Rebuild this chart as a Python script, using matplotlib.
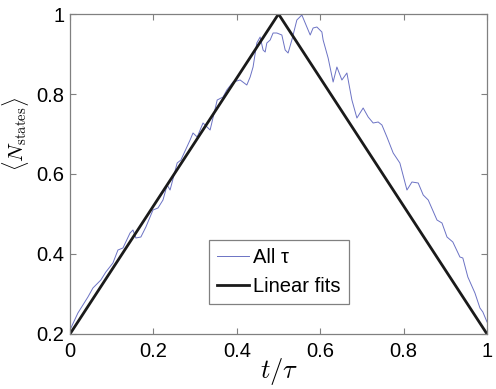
import numpy as np
import matplotlib
matplotlib.use("Agg")
import matplotlib.pyplot as plt

plt.rcParams["font.family"] = ["Liberation Sans", "DejaVu Sans"]
plt.rcParams["mathtext.fontset"] = "cm"

# Averaged number of states (blue, noisy trace)
t_all = [0.000, 0.019, 0.043, 0.055, 0.074, 0.086, 0.103, 0.115, 0.127, 0.144,
         0.151, 0.158, 0.170, 0.182, 0.199, 0.211, 0.223, 0.233, 0.240, 0.257,
         0.266, 0.288, 0.295, 0.305, 0.319, 0.336, 0.353, 0.367, 0.376, 0.391,
         0.408, 0.424, 0.432, 0.439, 0.448, 0.456, 0.463, 0.468, 0.472, 0.480,
         0.487, 0.496, 0.508, 0.516, 0.523, 0.532, 0.544, 0.556, 0.568, 0.576,
         0.583, 0.592, 0.604, 0.607, 0.619, 0.631, 0.640, 0.652, 0.664, 0.676,
         0.688, 0.703, 0.715, 0.727, 0.739, 0.748, 0.760, 0.775, 0.791, 0.808,
         0.820, 0.835, 0.847, 0.859, 0.880, 0.892, 0.904, 0.918, 0.935, 0.942,
         0.954, 0.971, 0.983, 0.990, 1.000]
n_all = [0.210, 0.2525, 0.2925, 0.315, 0.335, 0.355, 0.3775, 0.410, 0.415, 0.4525,
         0.460, 0.440, 0.4425, 0.4675, 0.510, 0.515, 0.535, 0.5725, 0.560, 0.6275,
         0.635, 0.685, 0.7025, 0.6925, 0.7275, 0.710, 0.785, 0.7925, 0.810, 0.830,
         0.835, 0.8225, 0.8425, 0.8675, 0.9275, 0.9425, 0.910, 0.905, 0.9275, 0.935,
         0.9525, 0.9525, 0.9475, 0.910, 0.9025, 0.935, 0.985, 0.9975, 0.9675, 0.9475,
         0.965, 0.9675, 0.955, 0.935, 0.890, 0.830, 0.8675, 0.835, 0.8525, 0.785,
         0.740, 0.765, 0.7425, 0.7275, 0.730, 0.7225, 0.6925, 0.6525, 0.6275, 0.560,
         0.580, 0.5775, 0.5475, 0.535, 0.485, 0.4775, 0.4425, 0.430, 0.3925, 0.390,
         0.3425, 0.3025, 0.265, 0.255, 0.230]

# Linear fits (up and down)
t_fit = [0.0, 0.5, 1.0]
n_fit = [0.2, 1.0, 0.2]

xticks = [0, 0.2, 0.4, 0.6, 0.8, 1]
yticks = [0.2, 0.4, 0.6, 0.8, 1]
tick_labels_x = ["0", "0.2", "0.4", "0.6", "0.8", "1"]
tick_labels_y = ["0.2", "0.4", "0.6", "0.8", "1"]

fig = plt.figure(figsize=(4.96, 3.89), dpi=100)
ax = fig.add_axes([0.1411, 0.1414, 0.8408, 0.8226])

ax.plot(t_all, n_all, color="#6b72c4", lw=0.7, label="All τ")
ax.plot(t_fit, n_fit, color="#1a1a1a", lw=2.0, label="Linear fits")

ax.set_xlim(0, 1)
ax.set_ylim(0.2, 1)
ax.set_xticks(xticks)
ax.set_xticklabels(tick_labels_x)
ax.set_yticks(yticks)
ax.set_yticklabels(tick_labels_y)
ax.tick_params(direction="in", top=True, right=True, length=4, color="#808080",
               labelsize=14.5)
ax.tick_params(axis="x", pad=6)
ax.tick_params(axis="y", pad=4)
for s in ax.spines.values():
    s.set_color("#808080")
    s.set_linewidth(0.9)

ax.set_xlabel(r"$t/\tau$", fontsize=19)
ax.xaxis.set_label_coords(0.501, -0.068)
ax.set_ylabel(r"$\langle N_{\rm states}\rangle$", fontsize=15)
ax.yaxis.set_label_coords(-0.094, 0.625)

leg = ax.legend(loc="lower left", bbox_to_anchor=(0.333, 0.094), borderaxespad=0,
                fontsize=14.5, fancybox=False, edgecolor="#808080", framealpha=1,
                handlelength=1.6, handletextpad=0.2, borderpad=0.4, labelspacing=0.5)
leg.get_frame().set_linewidth(0.9)

fig.savefig("out.png", dpi=100)
